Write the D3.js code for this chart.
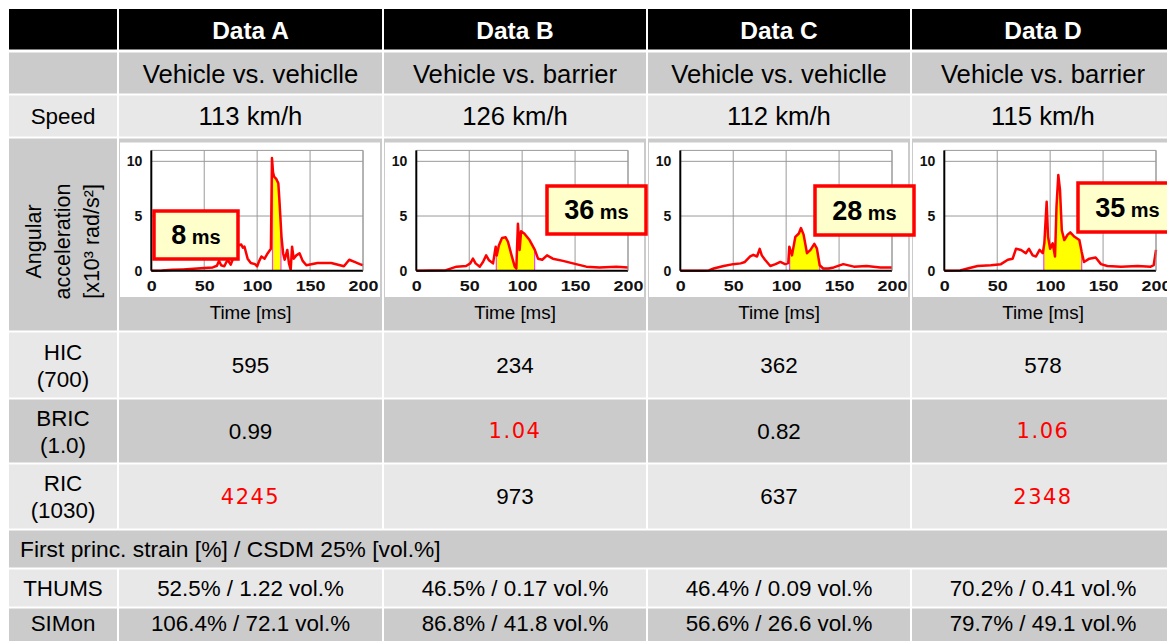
<!DOCTYPE html>
<html>
<head>
<meta charset="utf-8">
<script src="https://cdn.jsdelivr.net/npm/d3@7"></script>
<style>
html, body { margin: 0; padding: 0; background: #fff; overflow: hidden; }
svg { display: block; font-family: "Liberation Sans", Arial, sans-serif; }
</style>
</head>
<body>
<svg id="table-chart" width="1167" height="641"></svg>
<script>
// ======================
// DATA
// ======================

const datasetNames = ["Data A", "Data B", "Data C", "Data D"];
const crashTypes = ["Vehicle vs. vehiclle", "Vehicle vs. barrier", "Vehicle vs. vehiclle", "Vehicle vs. barrier"];
const speeds = ["113 km/h", "126 km/h", "112 km/h", "115 km/h"];

const hicValues = ["595", "234", "362", "578"];
const bricValues = ["0.99", "1.04", "0.82", "1.06"];
const ricValues = ["4245", "973", "637", "2348"];
const criteriaLabels = [["HIC", "(700)"], ["BRIC", "(1.0)"], ["RIC", "(1030)"]];
const criteriaLimits = [700, 1.0, 1030];

const strainTitle = "First princ. strain [%] / CSDM 25% [vol.%]";
const thumsValues = ["52.5% / 1.22 vol.%", "46.5% / 0.17 vol.%", "46.4% / 0.09 vol.%", "70.2% / 0.41 vol.%"];
const simonValues = ["106.4% / 72.1 vol.%", "86.8% / 41.8 vol.%", "56.6% / 26.6 vol.%", "79.7% / 49.1 vol.%"];

// time window (ms) of the yellow shaded part and its length label
const windowStart = [114.5, 75.6, 103.3, 94];
const windowEnd = [122.5, 111.8, 131.7, 129.8];
const windowLabels = [8, 36, 28, 35];

// angular acceleration [x10^3 rad/s^2] vs time [ms]
const curveA = [[0,0],[10,0.02],[20,0.08],[30,0.12],[40,0.18],[50,0.25],[58,0.3],[62,0.45],[64,0.9],[66,0.5],
  [69,0.4],[72,1.0],[75,0.55],[78,1.3],[82,2.3],[85,2.4],[86.5,2.1],[88,2.2],[91,1.1],[94,0.7],[98,0.6],[100,0.4],
  [102,0.9],[104,1.3],[107,1.1],[110,1.6],[113,2.0],[114,10.3],[115,9.0],[116,8.6],[118,8.4],[120,8.0],[121,6.5],
  [123,3.1],[124.5,1.6],[126,1.0],[128.5,1.9],[130,0.7],[131.7,0.1],[133,2.2],[134.5,1.1],[137,1.4],[140,1.6],
  [143,0.9],[146.5,0.5],[157,0.7],[170,0.7],[182,0.4],[187,1.0],[192,0.8],[197,0.6],[200,0.5]];

const curveB = [[0,0],[15,0.02],[28,0.05],[38,0.37],[47,0.43],[51,0.67],[53.5,1.1],[56,0.67],[60,0.37],[63,0.8],
  [66,1.4],[68.7,0.95],[72.5,0.67],[75,2.2],[76,1.4],[78,2.3],[81,3.0],[84.4,3.05],[86.6,2.65],[90,1.4],[93,0.37],
  [94.5,0.2],[96,4.3],[97.6,1.9],[99,3.6],[102,3.4],[107,2.8],[112,1.9],[115,1.1],[119,1.0],[123.5,1.4],[129,1.1],
  [138.6,0.9],[148,0.67],[160.6,0.37],[173,0.3],[189,0.37],[200,0.3]];

const curveC = [[0,0],[20,0],[27,0.02],[31.5,0.2],[41,0.43],[50,0.6],[57,0.67],[61,0.8],[66,1.3],[69,1.45],
  [72.5,1.3],[75,2.0],[77,1.4],[80,1.0],[85,0.43],[90,0.6],[94.5,0.8],[99,0.6],[102,0.7],[103,2.2],[105.5,1.4],
  [108.7,3.1],[112,3.4],[114,3.9],[116.5,3.3],[119.7,1.6],[123,1.9],[126.6,2.45],[129,2.05],[131.7,0.5],
  [135,0.2],[140,0.2],[145,0.3],[154,0.6],[164,0.37],[176,0.43],[189,0.3],[200,0.3]];

const curveD = [[0,0],[15,0.02],[22,0.2],[31.5,0.43],[44,0.5],[53.5,0.6],[60,1.0],[64.6,1.1],[67.7,2.0],[72.5,1.9],
  [77,1.6],[80,2.0],[83.5,1.4],[86.6,1.3],[90,1.9],[93,1.6],[94.5,2.5],[96.7,6.3],[98,3.1],[100,2.0],[102.4,2.5],
  [104.6,1.3],[106,5.85],[107.7,8.75],[109.3,7.4],[111,3.7],[113.4,2.8],[116.5,3.3],[119,3.5],[123,3.1],[127.6,2.8],
  [129.8,1.7],[132,0.8],[137,1.1],[143,1.2],[148,0.6],[154,0.43],[167,0.37],[182.7,0.43],[195,0.37],[197.8,0.5],[200,1.9]];

const curves = [curveA, curveB, curveC, curveD];
const timeTicks = [0, 50, 100, 150, 200];
const accelTicks = [0, 5, 10];

// ======================
// LAYOUT
// ======================

const svg = d3.select("#table-chart");

const colEdges = [9, 118, 383, 647, 911, 1175];
const rowTops = [9, 52.5, 95.5, 138.5, 332.5, 399.5, 464.5, 530.5, 569.5, 608.5];
const rowBottoms = [49.5, 93.5, 136.5, 330.5, 397.5, 462.5, 528.5, 567.5, 606.5, 660];
const rowFills = ["#000", "#cbcbcb", "#e8e8e8", "#cbcbcb", "#e8e8e8", "#cbcbcb", "#e8e8e8", "#cbcbcb", "#e8e8e8", "#cbcbcb"];

const redColor = "#ff0000";
const boxFill = "#ffffcc";

function cellX0(i) { return i === 0 ? colEdges[0] : colEdges[i] + 1; }
function cellX1(i) { return colEdges[i + 1] - 1; }
function cellMidX(i) { return (cellX0(i) + cellX1(i)) / 2; }
function rowMidY(r) { return (rowTops[r] + rowBottoms[r]) / 2; }

// ======================
// CELL BACKGROUNDS
// ======================

const cellsG = svg.append("g");
rowTops.forEach((top, r) => {
    if (r === 7) {
        // strain title spans the full width
        cellsG.append("rect")
            .attr("x", cellX0(0)).attr("y", top)
            .attr("width", cellX1(4) - cellX0(0)).attr("height", rowBottoms[r] - top)
            .attr("fill", rowFills[r]);
        return;
    }
    d3.range(5).forEach(i => {
        cellsG.append("rect")
            .attr("x", cellX0(i)).attr("y", top)
            .attr("width", cellX1(i) - cellX0(i)).attr("height", rowBottoms[r] - top)
            .attr("fill", rowFills[r]);
    });
});

// ======================
// TEXT CELLS
// ======================

const textG = svg.append("g");

function cellText(x, y, str, size, opts = {}) {
    return textG.append("text")
        .attr("x", x).attr("y", y)
        .attr("text-anchor", opts.anchor || "middle")
        .attr("dominant-baseline", "central")
        .attr("font-size", size)
        .attr("font-weight", opts.bold ? "bold" : "normal")
        .attr("font-family", opts.family || null)
        .attr("fill", opts.color || "#000")
        .text(str);
}

datasetNames.forEach((d, i) => cellText(cellMidX(i + 1), rowMidY(0) + 1, d, 24.5, { bold: true, color: "#fff" }));
crashTypes.forEach((d, i) => cellText(cellMidX(i + 1), rowMidY(1) + 1, d, 25.7));
cellText(cellMidX(0), rowMidY(2), "Speed", 22.4);
speeds.forEach((d, i) => cellText(cellMidX(i + 1), rowMidY(2), d, 25.7));

// rotated y label of the chart row
const angG = textG.append("g")
    .attr("transform", `translate(${cellMidX(0)},${rowMidY(3) + 7}) rotate(-90)`);
const angLines = ["Angular", "acceleration", "[x10³ rad/s²]"];
angLines.forEach((s, k) => {
    angG.append("text")
        .attr("x", 0).attr("y", (k - 1) * 29)
        .attr("text-anchor", "middle")
        .attr("dominant-baseline", "central")
        .attr("font-size", 21.5)
        .text(s);
});

// criteria rows
[hicValues, bricValues, ricValues].forEach((vals, c) => {
    const r = 4 + c;
    const my = rowMidY(r);
    cellText(cellMidX(0), my - 13, criteriaLabels[c][0], 22.4);
    cellText(cellMidX(0), my + 14, criteriaLabels[c][1], 22.4);
    vals.forEach((v, i) => {
        const over = +v > criteriaLimits[c];
        if (over) {
            cellText(cellMidX(i + 1), my, v, 21, { color: redColor, family: "'DejaVu Sans', sans-serif" })
                .attr("letter-spacing", 1.5);
        } else {
            cellText(cellMidX(i + 1), my, v, 22.4);
        }
    });
});

cellText(cellX0(0) + 11, rowMidY(7), strainTitle, 22.8, { anchor: "start" });
cellText(cellMidX(0), rowMidY(8), "THUMS", 22.4);
thumsValues.forEach((v, i) => cellText(cellMidX(i + 1), rowMidY(8), v, 22.4));
cellText(cellMidX(0), rowMidY(9) - 11, "SIMon", 22.4);
simonValues.forEach((v, i) => cellText(cellMidX(i + 1), rowMidY(9) - 11, v, 22.4));

// ======================
// SMALL CHARTS
// ======================

const chartTop = 142.5;
const chartBottom = 297;

curves.forEach((data, i) => {
    const x0 = colEdges[i + 1];
    const g = svg.append("g");

    // white picture area
    g.append("rect")
        .attr("x", x0 + 2).attr("y", chartTop)
        .attr("width", cellX1(i + 1) - 2 - (x0 + 2)).attr("height", chartBottom - chartTop)
        .attr("fill", "#fff");

    const xScale = d3.scaleLinear().domain([0, 200]).range([x0 + 33.3, x0 + 245]);
    const yScale = d3.scaleLinear().domain([0, 11]).range([270.7, 150.4]);

    // grid
    g.append("g").selectAll("line").data(timeTicks.slice(1)).join("line")
        .attr("x1", d => xScale(d)).attr("x2", d => xScale(d))
        .attr("y1", yScale(0)).attr("y2", yScale(11))
        .attr("stroke", "#9a9a9a").attr("stroke-width", 1);
    g.append("g").selectAll("line").data(accelTicks.slice(1).concat([11])).join("line")
        .attr("x1", xScale(0)).attr("x2", xScale(200))
        .attr("y1", d => yScale(d)).attr("y2", d => yScale(d))
        .attr("stroke", "#9a9a9a").attr("stroke-width", 1);

    // yellow shaded window
    const clipId = `win-clip-${i}`;
    g.append("clipPath").attr("id", clipId)
        .append("rect")
        .attr("x", xScale(windowStart[i])).attr("y", yScale(11))
        .attr("width", xScale(windowEnd[i]) - xScale(windowStart[i]))
        .attr("height", yScale(0) - yScale(11));

    const area = d3.area()
        .x(d => xScale(d[0]))
        .y0(yScale(0))
        .y1(d => yScale(d[1]));
    g.append("path")
        .datum(data)
        .attr("d", area)
        .attr("fill", "#ffff00")
        .attr("clip-path", `url(#${clipId})`);

    // magenta window edges
    const bisect = d3.bisector(d => d[0]).left;
    const valueAt = t => {
        const k = Math.max(1, bisect(data, t));
        const a = data[k - 1], b = data[k];
        return a[1] + (b[1] - a[1]) * (t - a[0]) / (b[0] - a[0]);
    };
    g.append("g").selectAll("line").data([windowStart[i], windowEnd[i]]).join("line")
        .attr("x1", d => xScale(d)).attr("x2", d => xScale(d))
        .attr("y1", yScale(0)).attr("y2", d => yScale(valueAt(d)))
        .attr("stroke", "#ee44ee").attr("stroke-width", 1.2);

    // curve
    const line = d3.line()
        .x(d => xScale(d[0]))
        .y(d => yScale(d[1]));
    g.append("path")
        .datum(data)
        .attr("d", line)
        .attr("fill", "none")
        .attr("stroke", redColor)
        .attr("stroke-width", 2.5)
        .attr("stroke-linejoin", "round");

    // axes
    const xAxis = d3.axisBottom(xScale).tickValues(timeTicks).tickSize(0).tickPadding(10);
    const yAxis = d3.axisLeft(yScale).tickValues(accelTicks).tickSize(0).tickPadding(9);

    const xAxisG = g.append("g").attr("transform", `translate(0,${yScale(0)})`).call(xAxis);
    const yAxisG = g.append("g").attr("transform", `translate(${xScale(0)},0)`).call(yAxis);
    [xAxisG, yAxisG].forEach(ax => {
        ax.select(".domain").attr("stroke", "#000").attr("stroke-width", 2);
        ax.selectAll("text")
            .attr("font-size", 14)
            .attr("font-weight", "bold")
            .attr("fill", "#111")
            .attr("font-family", "'Liberation Sans', Arial, sans-serif");
    });
    // the embedded plots were stretched sideways
    xAxisG.selectAll("text").attr("transform", "scale(1.28,1)");
    yAxisG.select(".domain").attr("d", `M0,${yScale(11)}V${yScale(0)}`);
    xAxisG.select(".domain").attr("d", `M${xScale(0)},0H${xScale(200)}`);

    // right border of plot
    g.append("line")
        .attr("x1", xScale(200)).attr("x2", xScale(200))
        .attr("y1", yScale(11)).attr("y2", yScale(0))
        .attr("stroke", "#9a9a9a");

    // x title
    g.append("text")
        .attr("x", cellMidX(i + 1)).attr("y", 312)
        .attr("text-anchor", "middle")
        .attr("dominant-baseline", "central")
        .attr("font-size", 18.8)
        .text("Time [ms]");
});

// ======================
// WINDOW LENGTH LABELS
// ======================

const labelBoxes = [[36, 211, 84, 48], [164, 186, 99, 48], [168, 186, 99, 49], [167, 183, 99, 49]];

labelBoxes.forEach((b, i) => {
    const bx = colEdges[i + 1] + b[0];
    const g = svg.append("g");
    g.append("rect")
        .attr("x", bx).attr("y", b[1])
        .attr("width", b[2]).attr("height", b[3])
        .attr("fill", boxFill)
        .attr("stroke", redColor)
        .attr("stroke-width", 3.5);
    const t = g.append("text")
        .attr("x", bx + b[2] / 2).attr("y", b[1] + b[3] / 2 + 9)
        .attr("text-anchor", "middle")
        .attr("font-weight", "bold")
        .attr("fill", "#000");
    t.append("tspan").attr("font-size", 27).text(windowLabels[i]);
    t.append("tspan").attr("font-size", 20).text(" ms");
});
</script>
</body>
</html>
